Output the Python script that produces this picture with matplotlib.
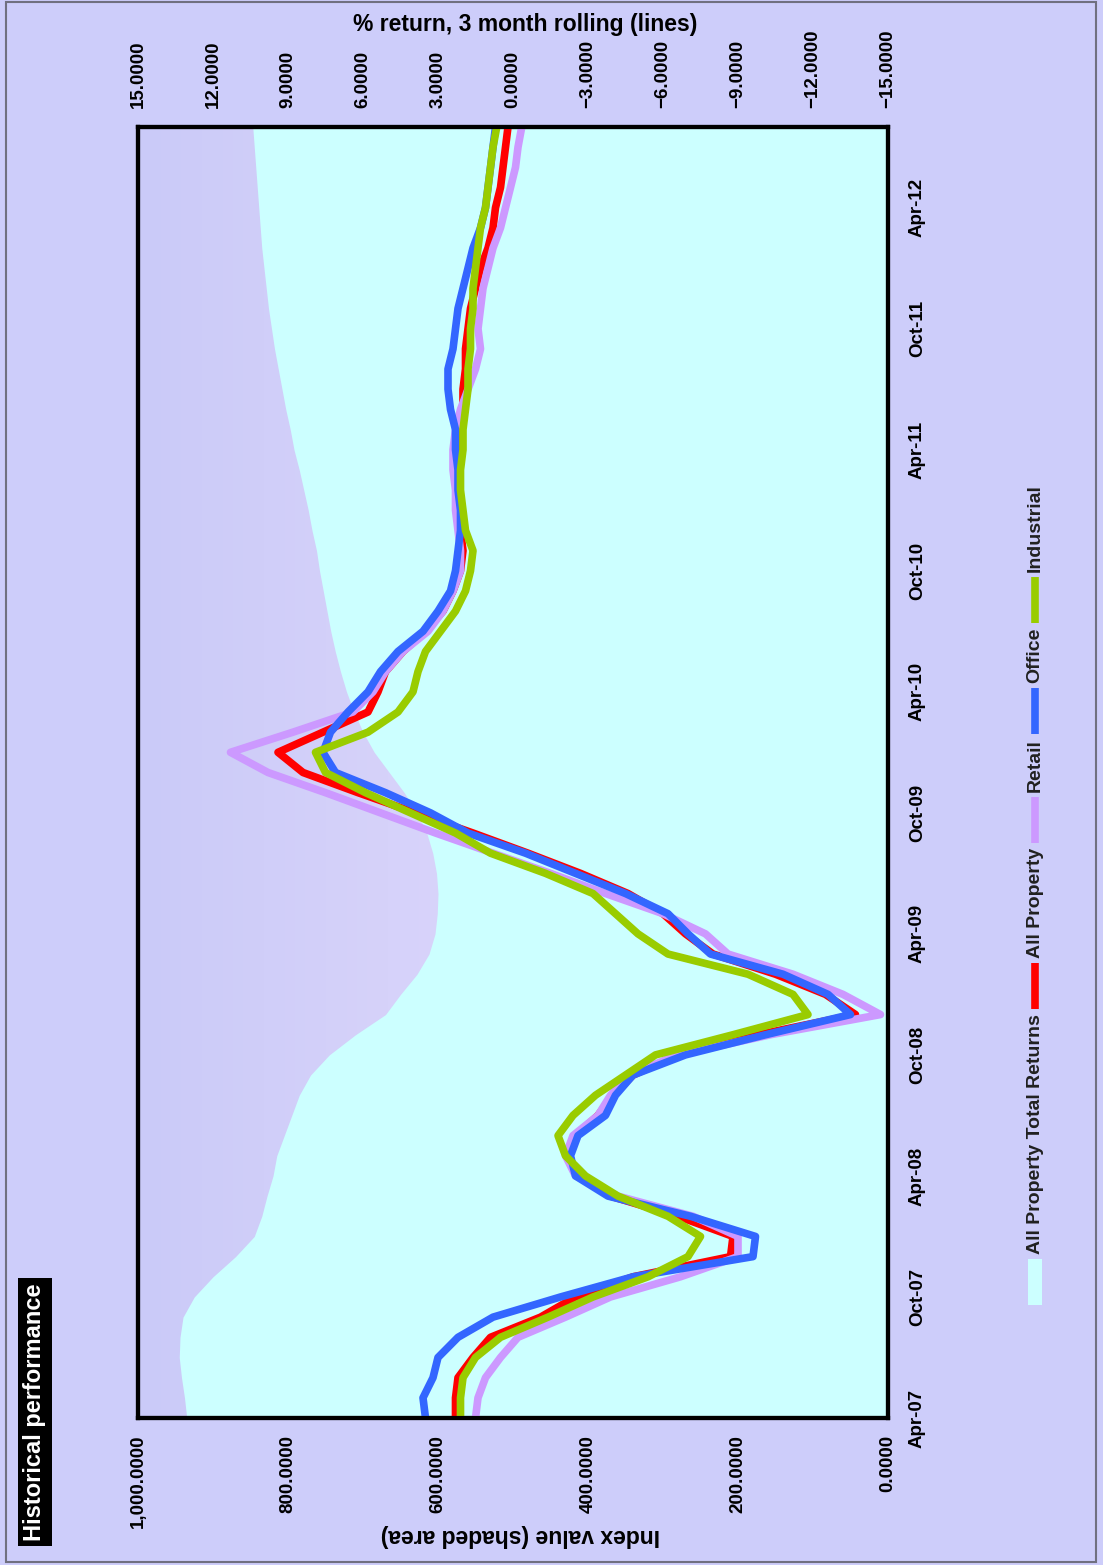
import matplotlib.pyplot as plt
import numpy as np
import pandas as pd
from matplotlib.colors import LinearSegmentedColormap
from matplotlib.lines import Line2D
from matplotlib.patches import Rectangle

plt.rcParams['font.family'] = ['Liberation Sans', 'DejaVu Sans']

# monthly observations, Apr-07 .. Aug-12
months = pd.date_range('2007-04-01', '2012-08-01', freq='MS')

# index level (shaded area)
index_total = [935, 938, 942, 945, 944, 940, 925, 900, 870, 845, 835, 828, 820,
               815, 805, 795, 785, 770, 745, 710, 670, 650, 628, 612, 604,
               601, 600, 602, 607, 615, 628, 645, 665, 685, 700, 712, 722, 730,
               737, 743, 748, 753, 758, 762, 768, 773, 779, 785, 792, 797, 803,
               808, 813, 818, 822, 826, 829, 832, 835, 837, 839, 841, 843, 845, 847]

# % return, 3 month rolling
all_property = [2.3, 2.3, 2.2, 1.6, 0.9, -1.1, -2.5, -4.8, -8.7, -8.8, -6.6, -3.9, -2.6,
                -2.2, -2.5, -3.4, -4.0, -4.8, -6.6, -9.8, -13.7, -12.5, -10.5, -8.0, -6.9,
                -6.0, -4.6, -2.7, -0.6, 1.6, 3.9, 6.2, 8.4, 9.4, 7.6, 5.8, 5.4, 5.1,
                4.4, 3.5, 2.8, 2.4, 2.1, 2.0, 2.1, 2.1, 2.2, 2.2, 2.2, 2.1, 2.0,
                2.0, 1.9, 1.9, 1.8, 1.7, 1.5, 1.3, 1.0, 0.8, 0.7, 0.5, 0.4, 0.3, 0.2]
retail = [1.5, 1.4, 1.1, 0.5, -0.2, -2.1, -3.9, -6.7, -9.0, -9.0, -7.2, -4.2, -2.5,
          -2.1, -2.4, -3.4, -3.9, -4.6, -6.6, -10.3, -14.7, -13.2, -11.2, -8.6, -7.7,
          -6.0, -3.7, -1.5, 0.8, 3.1, 5.3, 7.5, 9.8, 11.3, 8.8, 6.4, 5.6, 5.1,
          4.4, 3.4, 2.8, 2.4, 2.1, 2.1, 2.2, 2.3, 2.3, 2.4, 2.4, 2.3, 2.1,
          1.8, 1.5, 1.3, 1.4, 1.3, 1.2, 1.0, 0.8, 0.5, 0.3, 0.1, -0.1, -0.2, -0.35]
office = [3.5, 3.6, 3.2, 3.0, 2.2, 0.8, -1.9, -4.8, -9.6, -9.7, -7.1, -3.8, -2.5,
          -2.3, -2.6, -3.7, -4.1, -4.8, -6.9, -10.1, -13.5, -12.6, -10.8, -7.9, -7.0,
          -6.2, -4.5, -2.5, -0.5, 1.8, 3.3, 5.1, 7.1, 7.6, 7.3, 6.6, 5.8, 5.3,
          4.6, 3.6, 3.0, 2.5, 2.3, 2.2, 2.1, 2.1, 2.2, 2.2, 2.3, 2.3, 2.5,
          2.6, 2.6, 2.4, 2.3, 2.2, 2.0, 1.8, 1.6, 1.3, 1.1, 1.0, 0.9, 0.8, 0.7]
industrial = [2.1, 2.1, 2.0, 1.5, 0.5, -1.4, -3.2, -5.4, -7.0, -7.5, -6.2, -4.2, -2.9,
              -2.1, -1.8, -2.4, -3.3, -4.5, -5.7, -8.8, -11.8, -11.2, -9.4, -6.2, -5.0,
              -4.1, -3.2, -1.3, 0.9, 2.3, 4.1, 5.9, 7.5, 7.9, 5.8, 4.6, 4.0, 3.8,
              3.5, 2.9, 2.3, 1.9, 1.7, 1.6, 1.9, 2.0, 2.1, 2.1, 2.0, 2.0, 1.9,
              1.8, 1.8, 1.7, 1.7, 1.6, 1.6, 1.5, 1.4, 1.3, 1.1, 1.0, 0.9, 0.8, 0.65]

index_ticks = [0, 200, 400, 600, 800, 1000]
return_ticks = [15, 12, 9, 6, 3, 0, -3, -6, -9, -12, -15]
date_ticks = list(range(0, len(months), 6))
date_labels = [d.strftime('%b-%y') for d in months[::6]]

BG = '#CDCDFA'
CYAN = '#CCFFFF'
RED = '#FF0000'
PINK = '#CC99FF'
BLUE = '#3366FF'
GREEN = '#99CC00'

W, H = 1103, 1565
fig = plt.figure(figsize=(W / 100, H / 100), dpi=100)
fig.patch.set_facecolor(BG)


def fx(px):
    return px / W


def fy(py):
    return 1 - py / H


m = np.arange(len(months))

ax = fig.add_axes([fx(138), fy(1418), fx(888) - fx(138), fy(127) - fy(1418)])
bg_cmap = LinearSegmentedColormap.from_list('plotbg', ['#CACAF8', '#D6D2FA', '#DED8FB', '#DED8FB'])
ax.imshow(np.linspace(0, 1, 256)[None, :], extent=[0, 1, 0, 1], transform=ax.transAxes,
          cmap=bg_cmap, aspect='auto', zorder=0)
ax.fill_betweenx(m, 0, index_total, color=CYAN, lw=0, zorder=1)
ax.set_xlim(1000, 0)
ax.set_ylim(0, len(months) - 1)

ax.set_xticks(index_ticks)
ax.set_xticklabels([f'{v:,.4f}' for v in index_ticks], rotation=90,
                   fontsize=13.5, fontweight='bold')
ax.tick_params(axis='x', length=0, pad=12)
ax.yaxis.tick_right()
ax.set_yticks(date_ticks)
ax.set_yticklabels(date_labels, rotation=90, va='center', fontsize=13.5, fontweight='bold')
ax.tick_params(axis='y', length=0, pad=15)

ax2 = ax.twiny()
ax2.set_xlim(15, -15)
for vals, col in [(all_property, RED), (retail, PINK), (office, BLUE), (industrial, GREEN)]:
    ax2.plot(vals, m, color=col, lw=5.5)
ax2.set_xticks(return_ticks)
ax2.set_xticklabels([f'{v:.4f}'.replace('-', '\u2212') for v in return_ticks],
                    rotation=90, fontsize=13.5, fontweight='bold')
ax2.tick_params(axis='x', length=0, pad=14)

for a in (ax, ax2):
    for s in a.spines.values():
        s.set_linewidth(3)
        s.set_color('black')

fig.text(fx(525), fy(25), '% return, 3 month rolling (lines)', ha='center', va='center',
         fontsize=16.5, fontweight='bold')
fig.text(fx(520), fy(1535), 'Index value (shaded area)', ha='center', va='center',
         rotation=180, fontsize=16.5, fontweight='bold')
fig.text(fx(35), fy(1412), 'Historical performance', ha='center', va='center', rotation=90,
         color='white', fontsize=17, fontweight='bold',
         bbox=dict(facecolor='black', edgecolor='none', pad=4))

# legend, stacked bottom to top
legend_items = [('patch', 'All Property Total Returns', CYAN),
                ('line', 'All Property', RED),
                ('line', 'Retail', PINK),
                ('line', 'Office', BLUE),
                ('line', 'Industrial', GREEN)]
renderer = fig.canvas.get_renderer()
y = 1305
lx = 1035
key_len = 46
for kind, label, col in legend_items:
    if kind == 'patch':
        fig.add_artist(Rectangle((fx(lx - 7), fy(y)), 14 / W, key_len / H, transform=fig.transFigure,
                                 facecolor=col, edgecolor='none'))
    else:
        fig.add_artist(Line2D([fx(lx), fx(lx)], [fy(y), fy(y - key_len)], transform=fig.transFigure,
                              color=col, lw=5.5, solid_capstyle='butt'))
    y -= key_len + 5
    t = fig.text(fx(lx), fy(y), label, rotation=90, ha='center', va='bottom',
                 fontsize=14, fontweight='bold', color='#202020')
    y -= t.get_window_extent(renderer).height + 5

fig.add_artist(Rectangle((fx(6), fy(1562)), fx(1096) - fx(6), fy(2) - fy(1562),
                         transform=fig.transFigure, facecolor='none', edgecolor='#707080', lw=1.5))

fig.savefig('out.png', dpi=100, facecolor=BG)
